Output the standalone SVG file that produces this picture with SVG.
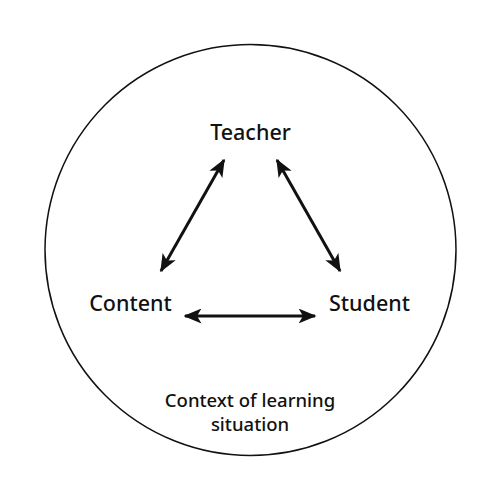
<svg xmlns="http://www.w3.org/2000/svg" width="500" height="500" viewBox="0 0 500 500">
<style>
.lbl{font-family:"Noto Sans","DejaVu Sans",sans-serif;font-weight:500;fill:#111;text-anchor:middle}
.big{font-size:21.5px}
.small{font-size:18.5px}
.conn{stroke:#111;stroke-width:3;fill:none}
</style>
<defs>
<marker id="ah" viewBox="0 0 12 10" refX="11" refY="5" markerWidth="6" markerHeight="5" orient="auto-start-reverse" markerUnits="strokeWidth">
<path d="M0,0 L12,5 L0,10 L3,5 Z" fill="#111"/>
</marker>
</defs>
<rect width="500" height="500" fill="#fff"/>
<g id="context">
<circle cx="250.5" cy="250" r="205.5" fill="none" stroke="#111" stroke-width="1.5"/>
<text class="lbl small" x="250" y="407">Context of learning</text>
<text class="lbl small" x="250" y="431">situation</text>
</g>
<g id="teacher"><text class="lbl big" x="250.5" y="140">Teacher</text></g>
<g id="content"><text class="lbl big" x="130.5" y="311">Content</text></g>
<g id="student"><text class="lbl big" x="369.5" y="311">Student</text></g>
<g id="connectors">
<line class="conn" x1="161" y1="271" x2="224" y2="160" marker-start="url(#ah)" marker-end="url(#ah)"/>
<line class="conn" x1="277" y1="160" x2="340" y2="271" marker-start="url(#ah)" marker-end="url(#ah)"/>
<line class="conn" x1="185" y1="316" x2="315" y2="316" marker-start="url(#ah)" marker-end="url(#ah)"/>
</g>
</svg>
